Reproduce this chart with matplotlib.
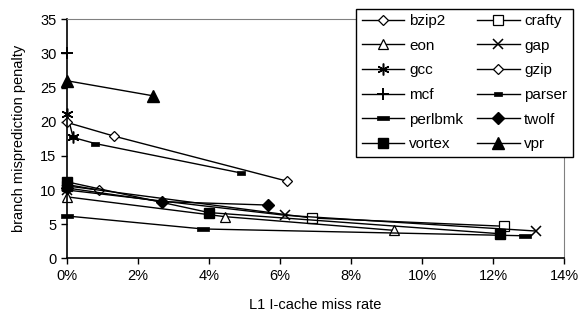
import numpy as np
import matplotlib
matplotlib.use("Agg")
import matplotlib.pyplot as plt
from matplotlib.path import Path

plt.rcParams['font.family'] = ['Liberation Sans', 'DejaVu Sans']

# miss rate (%) and branch misprediction penalty per benchmark
names = ["bzip2", "crafty", "eon", "gap", "gcc", "gzip",
         "mcf", "parser", "perlbmk", "twolf", "vortex", "vpr"]
bzip2_x = [0.0, 0.9]
bzip2_y = [10.8, 10.0]
crafty_x = [0.0, 6.9, 12.3]
crafty_y = [10.6, 5.9, 4.7]
eon_x = [0.0, 4.45, 9.2]
eon_y = [9.0, 6.1, 4.1]
gap_x = [0.0, 6.15, 13.2]
gap_y = [10.0, 6.3, 4.0]
gcc_x = [0.0, 0.17]
gcc_y = [21.2, 17.8]
gzip_x = [0.0, 1.32, 6.2]
gzip_y = [19.9, 17.9, 11.3]
mcf_x = [0.0]
mcf_y = [30.0]
parser_x = [0.17, 0.8, 4.9]
parser_y = [17.7, 16.8, 12.5]
perlbmk_x = [0.0, 3.83, 12.9]
perlbmk_y = [6.2, 4.3, 3.3]
twolf_x = [0.0, 2.68, 5.66]
twolf_y = [10.3, 8.3, 7.8]
vortex_x = [0.0, 4.0, 12.2]
vortex_y = [11.2, 6.7, 3.6]
vpr_x = [0.0, 2.42]
vpr_y = [26.0, 23.8]

xs = [bzip2_x, crafty_x, eon_x, gap_x, gcc_x, gzip_x,
      mcf_x, parser_x, perlbmk_x, twolf_x, vortex_x, vpr_x]
ys = [bzip2_y, crafty_y, eon_y, gap_y, gcc_y, gzip_y,
      mcf_y, parser_y, perlbmk_y, twolf_y, vortex_y, vpr_y]

dash_small = Path([(-1, -0.45), (1, -0.45), (1, 0.45), (-1, 0.45), (-1, -0.45)])
dash_wide = Path([(-1, -0.3), (1, -0.3), (1, 0.3), (-1, 0.3), (-1, -0.3)])

# marker, size, filled, edge width
styles = [
    ("D", 5.5, False, 0.9),
    ("s", 7.5, False, 0.9),
    ("^", 7.5, False, 0.9),
    ("x", 7.5, False, 1.1),
    ((6, 2, 0), 8.5, False, 1.1),
    ("D", 5.5, False, 0.9),
    ("+", 9, False, 1.4),
    (dash_small, 5.5, True, 0.5),
    (dash_wide, 9, True, 0.5),
    ("D", 6.5, True, 1.0),
    ("s", 7.5, True, 1.0),
    ("^", 8.5, True, 1.0),
]

fig = plt.figure(figsize=(5.82, 3.27), dpi=100)
ax = fig.add_axes([0.1151, 0.210, 0.854, 0.731])

handles = []
for name, x, y, (m, ms, filled, mew) in zip(names, xs, ys, styles):
    h, = ax.plot(x, y, color="black", linewidth=1.0, marker=m, markersize=ms,
                 markerfacecolor="black" if filled else "white",
                 markeredgecolor="black", markeredgewidth=mew, label=name,
                 clip_on=False)
    handles.append(h)

ax.set_xlim(0, 14)
ax.set_ylim(0, 35)
ax.set_xticks(np.arange(0, 15, 2))
ax.set_xticklabels([f"{v}%" for v in range(0, 15, 2)])
ax.set_yticks(np.arange(0, 36, 5))
ax.tick_params(direction="out", length=4, width=1, labelsize=10.5, colors="black")
ax.set_xlabel("L1 I-cache miss rate", fontsize=10.5, labelpad=11)
ax.set_ylabel("branch misprediction penalty", fontsize=10.5, labelpad=10)

for side in ["top", "right"]:
    ax.spines[side].set_color("#808080")
for side in ["left", "bottom"]:
    ax.spines[side].set_linewidth(1.2)

# legend filled row by row
order = list(range(0, 12, 2)) + list(range(1, 12, 2))
leg = fig.legend([handles[i] for i in order], [names[i] for i in order],
                 loc="upper right", bbox_to_anchor=(0.997, 0.997), ncol=2,
                 fontsize=11, frameon=True, fancybox=False, edgecolor="black",
                 handlelength=2.8, handletextpad=0.3, columnspacing=0.9,
                 labelspacing=0.7, borderpad=0.35)
leg.get_frame().set_linewidth(1.0)
leg.get_frame().set_alpha(1)

fig.savefig("out.png", dpi=100)
